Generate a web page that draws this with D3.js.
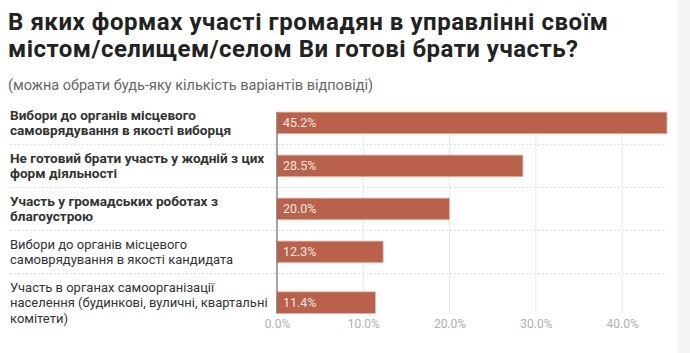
<!DOCTYPE html>
<html>
<head>
<meta charset="utf-8">
<script src="https://cdn.jsdelivr.net/npm/d3@7"></script>
<style>
  body { margin: 0; background: #fff; }
  svg { display: block; font-family: Roboto, "Noto Sans", sans-serif; }
</style>
</head>
<body>
<div id="chart"></div>
<script>
const titleLines = [
    "В яких формах участі громадян в управлінні своїм",
    "містом/селищем/селом Ви готові брати участь?"
];
const subtitle = "(можна обрати будь-яку кількість варіантів відповіді)";

const categories = [
    ["Вибори до органів місцевого", "самоврядування в якості виборця"],
    ["Не готовий брати участь у жодній з цих", "форм діяльності"],
    ["Участь у громадських роботах з", "благоустрою"],
    ["Вибори до органів місцевого", "самоврядування в якості кандидата"],
    ["Участь в органах самоорганізації", "населення (будинкові, вуличні, квартальні", "комітети)"]
];
const values = [45.2, 28.5, 20.0, 12.3, 11.4];
const xTicks = [0, 10, 20, 30, 40];
const boldCount = 3;

const width = 690;
const height = 353;
const x0 = 277, x1 = 667;
const rowTop = 101.4;
const lineH = 15.5;
const rowPad = 12;
const barH = 21.6;
const titleWidths = [600, 570];

const data = categories.map((lines, i) => ({ key: lines.join(" "), lines, value: values[i], i }));

// variable row heights from line count
let acc = rowTop;
data.forEach(d => {
    d.h = d.lines.length * lineH + rowPad;
    d.top = acc;
    acc += d.h;
});

const svg = d3.select("#chart")
    .append("svg")
    .attr("width", width)
    .attr("height", height);

svg.append("rect")
    .attr("x", 678).attr("y", 0)
    .attr("width", 12).attr("height", height)
    .attr("fill", "#f4f5f7");

const xScale = d3.scaleLinear()
    .domain([0, 45.2])
    .range([x0, x1]);

const yScale = d3.scaleOrdinal()
    .domain(data.map(d => d.key))
    .range(data.map(d => d.top + d.h / 2));

const plotTop = yScale(data[0].key) - barH / 2;
const plotBottom = yScale(data[data.length - 1].key) + barH / 2;

// title
svg.append("g")
    .selectAll("text")
    .data(titleLines)
    .enter()
    .append("text")
    .attr("x", 8)
    .attr("y", (d, i) => 30 + i * 27)
    .attr("font-size", "24px")
    .attr("font-weight", "bold")
    .attr("fill", "#222")
    .attr("textLength", (d, i) => titleWidths[i])
    .attr("lengthAdjust", "spacing")
    .text(d => d);

svg.append("text")
    .attr("x", 8)
    .attr("y", 90)
    .attr("font-size", "14.5px")
    .attr("fill", "#666")
    .text(subtitle);

// row separators
svg.append("g")
    .selectAll("line")
    .data(data.slice(1))
    .enter()
    .append("line")
    .attr("x1", 10)
    .attr("x2", x1)
    .attr("y1", d => d.top)
    .attr("y2", d => d.top)
    .attr("stroke", "#dcdcdc")
    .attr("stroke-dasharray", "2,2");

// vertical grid
svg.append("g")
    .selectAll("line")
    .data(xTicks.slice(1))
    .enter()
    .append("line")
    .attr("x1", d => xScale(d))
    .attr("x2", d => xScale(d))
    .attr("y1", plotTop)
    .attr("y2", plotBottom)
    .attr("stroke", "#e8e8e8");

// bars
svg.append("g")
    .selectAll("rect")
    .data(data)
    .enter()
    .append("rect")
    .attr("x", xScale(0))
    .attr("y", d => yScale(d.key) - barH / 2)
    .attr("width", d => xScale(d.value) - xScale(0))
    .attr("height", barH)
    .attr("fill", "#b9614b")
    .attr("stroke", "#e8b3a5")
    .attr("stroke-width", 0.8);

svg.append("g")
    .selectAll("text")
    .data(data)
    .enter()
    .append("text")
    .attr("x", xScale(0) + 6)
    .attr("y", d => yScale(d.key))
    .attr("dy", "0.35em")
    .attr("font-size", "12.5px")
    .attr("fill", "#f6e8e3")
    .text(d => d.value.toFixed(1) + "%");

// zero axis line
svg.append("line")
    .attr("x1", xScale(0)).attr("x2", xScale(0))
    .attr("y1", plotTop).attr("y2", plotBottom)
    .attr("stroke", "#666")
    .attr("stroke-width", 1.2);

// category labels
const labels = svg.append("g")
    .selectAll("text")
    .data(data)
    .enter()
    .append("text")
    .attr("x", 10)
    .attr("font-size", d => d.i < boldCount ? "13.6px" : "13px")
    .attr("font-weight", d => d.i < boldCount ? "bold" : "normal")
    .attr("fill", "#333");

labels.selectAll("tspan")
    .data(d => d.lines.map((t, j) => ({ t, j, n: d.lines.length, c: yScale(d.key) })))
    .enter()
    .append("tspan")
    .attr("x", 10)
    .attr("y", l => l.c + (l.j - (l.n - 1) / 2) * lineH)
    .attr("dy", "0.35em")
    .text(l => l.t);

// x axis
const xAxis = d3.axisBottom(xScale)
    .tickValues(xTicks)
    .tickSize(0)
    .tickPadding(0)
    .tickFormat(d => d.toFixed(1) + "%");

const axisG = svg.append("g")
    .attr("transform", `translate(0,${plotBottom + 6})`)
    .call(xAxis);

axisG.select(".domain").remove();
axisG.selectAll("text")
    .attr("font-family", "Roboto, 'Noto Sans', sans-serif")
    .attr("font-size", "12px")
    .attr("fill", "#b0b0b0");
</script>
</body>
</html>
